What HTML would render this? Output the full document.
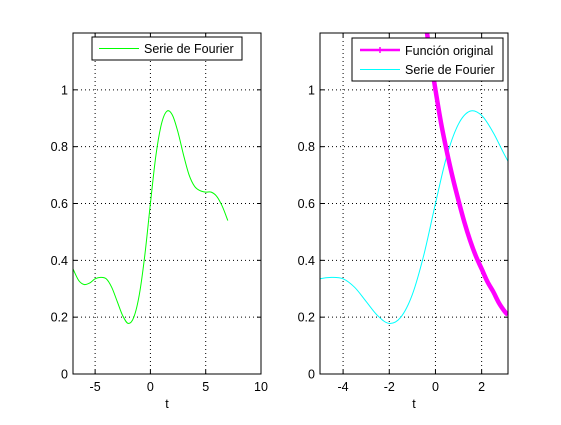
<!DOCTYPE html>
<html><head><meta charset="utf-8"><style>
body{margin:0;background:#fff;}
svg text{font-family:"Liberation Sans",Arial,sans-serif;font-size:12.5px;fill:#000;}
</style></head><body>
<svg id="fig" width="561" height="420" xmlns="http://www.w3.org/2000/svg"></svg>
<script>
const fourierT=[-7,-6.5,-6,-5.5,-5,-4.5,-4,-3.5,-3,-2.5,-2,-1.5,-1,-0.5,0,0.5,1,1.5,2,2.5,3,3.5,4,4.5,5,5.5,6,6.5,7];
const fourierY=[0.37,0.33,0.315,0.32,0.335,0.34,0.335,0.305,0.255,0.205,0.178,0.2,0.28,0.42,0.6,0.77,0.88,0.925,0.91,0.85,0.77,0.70,0.66,0.645,0.64,0.64,0.625,0.59,0.54];
const origT=[-0.4,-0.2,0,0.25,0.5,0.75,1,1.25,1.5,1.75,2,2.25,2.5,2.75,3,3.14];
const origY=[1.22,1.105,1.0,0.88,0.78,0.69,0.61,0.535,0.47,0.415,0.37,0.325,0.29,0.25,0.22,0.208];
const leftXTicks=[-5,0,5,10];
const rightXTicks=[-4,-2,0,2];
const yTicks=[0,0.2,0.4,0.6,0.8,1];

const NS="http://www.w3.org/2000/svg";
const svg=document.getElementById('fig');
function mk(tag,attrs,parent){const e=document.createElementNS(NS,tag);for(const k in attrs)e.setAttribute(k,attrs[k]);(parent||svg).appendChild(e);return e;}
let clipN=0;
function axes(name,px0,px1,xmin,xmax,xticks){
  const py0=33,py1=374,ymin=0,ymax=1.2;
  const sx=v=>px0+(v-xmin)/(xmax-xmin)*(px1-px0);
  const sy=v=>py1-(v-ymin)/(ymax-ymin)*(py1-py0);
  const g=mk('g',{});
  
  
  const id='c'+(clipN++);
  const cp=mk('clipPath',{id:id},g);mk('rect',{x:px0,y:py0,width:px1-px0,height:py1-py0},cp);
  xticks.forEach(t=>{
    const x=sx(t);
    const l=mk('line',{x1:x,x2:x,y1:py0,y2:py1,stroke:'#000','stroke-dasharray':'1,3','stroke-width':1},g);
    
    
    mk('line',{x1:x,x2:x,y1:py1,y2:py1-4,stroke:'#000'},g);
    mk('line',{x1:x,x2:x,y1:py0,y2:py0+4,stroke:'#000'},g);
    const tx=mk('text',{x:x,y:py1+17,'text-anchor':'middle'},g);tx.textContent=t;
    
    
  });
  yTicks.forEach(t=>{
    const y=sy(t);
    const l=mk('line',{x1:px0,x2:px1,y1:y,y2:y,stroke:'#000','stroke-dasharray':'1,3','stroke-width':1},g);
    
    
    mk('line',{x1:px0,x2:px0+4,y1:y,y2:y,stroke:'#000'},g);
    mk('line',{x1:px1,x2:px1-4,y1:y,y2:y,stroke:'#000'},g);
    const tx=mk('text',{x:px0-5,y:y+4.5,'text-anchor':'end'},g);tx.textContent=t;
    
    
  });
  const xl=mk('text',{x:(px0+px1)/2,y:408,'text-anchor':'middle'},g);xl.textContent='t';
  
  
  return {g,sx,sy,id,px0,px1,py0,py1};
}
function line(ax,T,Y,color,w,name){
  const P=T.map((t,i)=>[ax.sx(t),ax.sy(Y[i])]);
  let d='M'+P[0][0].toFixed(2)+','+P[0][1].toFixed(2);
  for(let i=0;i<P.length-1;i++){
    const p0=P[Math.max(0,i-1)],p1=P[i],p2=P[i+1],p3=P[Math.min(P.length-1,i+2)];
    const c1=[p1[0]+(p2[0]-p0[0])/6,p1[1]+(p2[1]-p0[1])/6];
    const c2=[p2[0]-(p3[0]-p1[0])/6,p2[1]-(p3[1]-p1[1])/6];
    d+='C'+c1.map(v=>v.toFixed(2)).join(',')+' '+c2.map(v=>v.toFixed(2)).join(',')+' '+p2.map(v=>v.toFixed(2)).join(',');
  }
  const p=mk('path',{d:d,fill:'none',stroke:color,'stroke-width':w,'clip-path':'url(#'+ax.id+')','stroke-linejoin':'round'},ax.g);
  
  
  return p;
}
function frame(ax){mk('rect',{x:ax.px0,y:ax.py0,width:ax.px1-ax.px0,height:ax.py1-ax.py0,fill:'none',stroke:'#000'},ax.g);}

// left
const A=axes('left-axes',73,261,-7,10,leftXTicks);
line(A,fourierT,fourierY,'#00ff00',1,'fourier-series-line');
frame(A);
const lg1=mk('g',{},A.g);


mk('rect',{x:92,y:37,width:150,height:23,fill:'#fff',stroke:'#000'},lg1);
mk('line',{x1:99,x2:139,y1:48.5,y2:48.5,stroke:'#00ff00'},lg1);
const lt1=mk('text',{x:144,y:53},lg1);lt1.textContent='Serie de Fourier';

// right
const B=axes('right-axes',320,508,-5,Math.PI,rightXTicks);
line(B,fourierT,fourierY,'#00ffff',1,'fourier-series-line');
line(B,origT,origY,'#ff00ff',4.5,'original-function-line');
frame(B);
const lg2=mk('g',{},B.g);


mk('rect',{x:352,y:38,width:151,height:43,fill:'#fff',stroke:'#000'},lg2);
mk('line',{x1:360,x2:400,y1:50,y2:50,stroke:'#ff00ff','stroke-width':2.5},lg2);
mk('line',{x1:380,x2:380,y1:47,y2:53,stroke:'#ff00ff','stroke-width':1.5},lg2);
const lt2=mk('text',{x:405,y:55},lg2);lt2.textContent='Función original';
mk('line',{x1:360,x2:400,y1:69.5,y2:69.5,stroke:'#00ffff'},lg2);
const lt3=mk('text',{x:405,y:74},lg2);lt3.textContent='Serie de Fourier';
</script>
</body></html>
